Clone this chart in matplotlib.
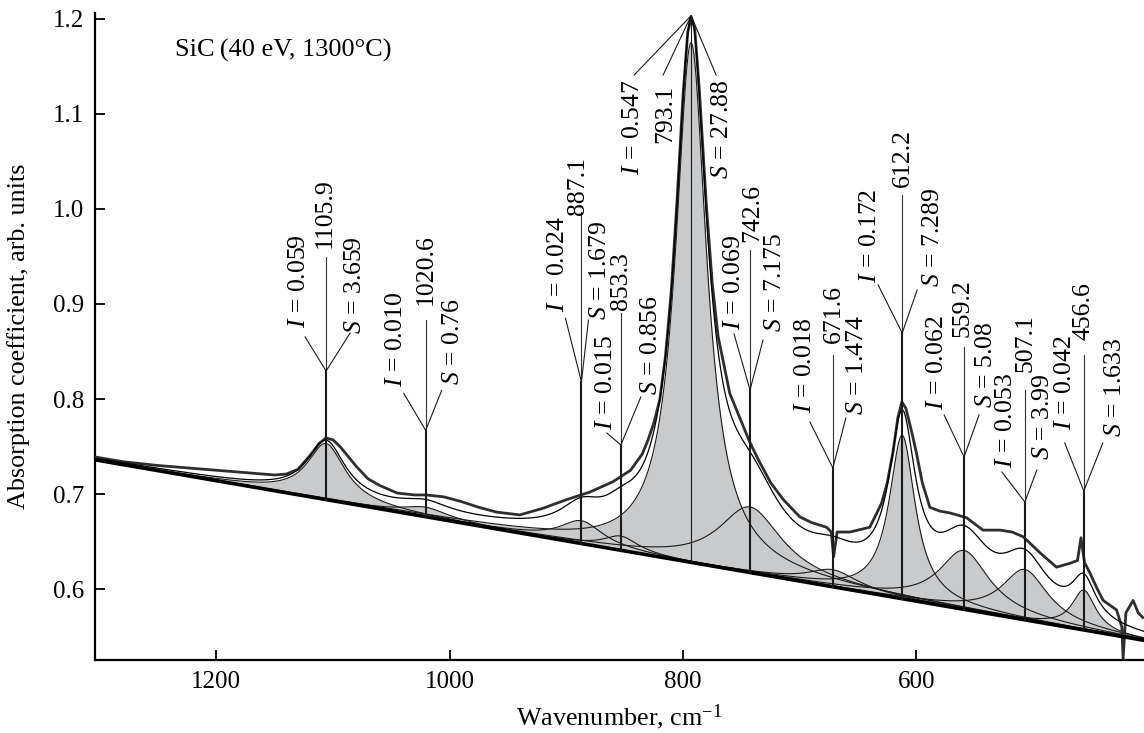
import numpy as np
import matplotlib
matplotlib.use("Agg")
import matplotlib.pyplot as plt

plt.rcParams['font.family'] = ['Liberation Serif', 'DejaVu Serif']
plt.rcParams['mathtext.fontset'] = 'custom'
plt.rcParams['mathtext.rm'] = 'Liberation Serif'
plt.rcParams['mathtext.it'] = 'Liberation Serif:italic'

# ---- data ----
peak_centers = [1105.9, 1020.6, 887.1, 853.3, 793.1, 742.6, 671.6, 612.2, 559.2, 507.1, 456.6]
peak_I = [0.059, 0.010, 0.024, 0.015, 0.547, 0.069, 0.018, 0.172, 0.062, 0.053, 0.042]
peak_S = [3.659, 0.76, 1.679, 0.856, 27.88, 7.175, 1.474, 7.289, 5.08, 3.99, 1.633]

baseline_x = [1304.0, 405.0]
baseline_y = [0.736, 0.546]

meas_x = [1304, 1280, 1250, 1200, 1170, 1150, 1140, 1130, 1120, 1112, 1106, 1100, 1094, 1088,
          1080, 1070, 1060, 1045, 1030, 1020, 1005, 990, 975, 960, 940, 920, 900, 880, 860,
          845, 835, 830, 825, 820, 815, 810, 805, 800, 796, 793, 790, 786, 780, 775, 770, 760,
          750, 742.6, 735, 725, 714, 700, 690, 677, 673, 671, 668, 657, 640, 630, 625, 620, 616,
          612.5, 609, 604, 600, 595, 588.5, 580, 571, 557, 543, 528.5, 518, 508.5, 494, 480,
          468.6, 462, 459, 456, 451.4, 445, 440, 428.5, 424, 422.9, 420.5, 414.3, 410, 406]
meas_y = [0.739, 0.734, 0.730, 0.725, 0.722, 0.720, 0.721, 0.726, 0.740, 0.753, 0.759, 0.757,
          0.750, 0.741, 0.729, 0.716, 0.709, 0.701, 0.699, 0.699, 0.697, 0.692, 0.686, 0.681,
          0.678, 0.685, 0.694, 0.702, 0.713, 0.725, 0.742, 0.757, 0.775, 0.799, 0.846, 0.915,
          1.012, 1.120, 1.186, 1.202, 1.190, 1.124, 1.003, 0.922, 0.866, 0.806, 0.776, 0.754,
          0.735, 0.712, 0.694, 0.676, 0.670, 0.665, 0.660, 0.634, 0.660, 0.660, 0.665, 0.690,
          0.712, 0.745, 0.780, 0.797, 0.790, 0.765, 0.743, 0.712, 0.686, 0.682, 0.680, 0.675,
          0.662, 0.662, 0.660, 0.655, 0.638, 0.623, 0.627, 0.630, 0.654, 0.628, 0.617, 0.600,
          0.588, 0.578, 0.560, 0.527, 0.575, 0.588, 0.575, 0.570]

# ---- annotation layout (stems, branches, label anchors) ----
ann_junction_y = [0.8295, 0.767, 0.818, 0.7516, 1.2035, 0.8095, 0.7274, 0.8695, 0.739, 0.6916, 0.7032]
ann_top = [(1105.9, 0.9495), (1020.6, 0.883), (887.1, 0.997), (853.3, 0.8905), (817.1, 1.141),
           (742.6, 0.9568), (671.6, 0.8463), (612.2, 1.0147), (559.2, 0.8547), (507.1, 0.8095),
           (456.6, 0.8463)]
ann_I_end = [(1123.9, 0.8653), (1039.4, 0.806), (900.8, 0.885), (865.3, 0.7642), (841.9, 1.141),
             (756.3, 0.8684), (691.3, 0.7758), (632.8, 0.92), (576.3, 0.7832), (526.8, 0.7232),
             (472.9, 0.7537)]
ann_S_end = [(1085.3, 0.8695), (1006.9, 0.809), (881.1, 0.883), (836.2, 0.8021), (771.7, 1.141),
             (731.5, 0.8621), (660.5, 0.78), (599.4, 0.9147), (546.4, 0.7832), (496.8, 0.7253),
             (440.3, 0.7537)]
lab_I = [(1129.5, 0.8747), (1046.3, 0.8126), (907.5, 0.8916), (866.0, 0.7674), (842.8, 1.1358),
         (756.5, 0.8726), (695.6, 0.7853), (640.0, 0.9221), (582.8, 0.7884), (523.0, 0.7274),
         (472.5, 0.7674)]
lab_C = [(1106.9, 0.9589), (1021.0, 0.8989), (890.2, 0.9937), (853.0, 0.8937), (815.4, 1.1305),
         (741.0, 0.9653), (670.5, 0.8589), (611.8, 1.0232), (560.2, 0.8653), (506.8, 0.8284),
         (457.2, 0.8621)]
lab_S = [(1081.5, 0.8684), (997.5, 0.8147), (871.5, 0.8832), (827.8, 0.8042), (766.5, 1.1358),
         (721.6, 0.8705), (651.0, 0.7832), (585.8, 0.9179), (540.8, 0.7905), (491.8, 0.7358),
         (429.5, 0.7600)]

fig = plt.figure(figsize=(11.44, 7.33), dpi=100)
ax = fig.add_axes([0.083, 0.0996, 0.917, 0.8827])

x = np.linspace(1304, 405, 3000)
base = np.interp(x, baseline_x[::-1], baseline_y[::-1])


def comp(c, I, S):
    fwhm = 2.0 * S / (np.pi * I)
    g = fwhm / 2.0
    return I / (1.0 + ((x - c) / g) ** 2)


comps = [comp(c, I, S) for c, I, S in zip(peak_centers, peak_I, peak_S)]
for cp in comps:
    ax.fill_between(x, base, base + cp, color='#c9cacc', lw=0, zorder=1)
for cp in comps:
    ax.plot(x, base + cp, color='#1a1a1a', lw=0.8, zorder=2)
fit = base + np.sum(comps, axis=0)

ax.plot(meas_x, meas_y, color='#2e2e2e', lw=2.0, zorder=3)
ax.plot(x, fit, color='black', lw=0.9, zorder=3)
ax.plot(baseline_x, baseline_y, color='black', lw=2.6, zorder=4)

fs = 18.5
for k, c in enumerate(peak_centers):
    b = np.interp(c, baseline_x[::-1], baseline_y[::-1])
    jy = ann_junction_y[k]
    tx, ty = ann_top[k]
    ix, iy = ann_I_end[k]
    sx, sy = ann_S_end[k]
    texts = [(lab_I[k], r"$I$ = " + f"{peak_I[k]:.3f}"),
             (lab_C[k], f"{c}"),
             (lab_S[k], r"$S$ = " + f"{peak_S[k]}")]
    if k == 4:
        ax.plot([c, c], [b, jy], color='#1a1a1a', lw=0.8, zorder=5)
        for ex, ey in [(ix, iy), (tx, ty), (sx, sy)]:
            ax.plot([c, ex], [jy, ey], color='#1a1a1a', lw=0.8, zorder=5)
        va = 'top'
    else:
        ax.plot([c, c], [b, jy], color='#1a1a1a', lw=1.5, zorder=5)
        ax.plot([c, tx], [jy, ty], color='#333333', lw=0.8, zorder=5)
        ax.plot([c, ix], [jy, iy], color='#1a1a1a', lw=0.8, zorder=5)
        ax.plot([c, sx], [jy, sy], color='#1a1a1a', lw=0.8, zorder=5)
        va = 'bottom'
    for (lx, ly), s in texts:
        ax.text(lx, ly, s, rotation=90, ha='center', va=va, fontsize=fs, zorder=6)

ax.text(1235, 1.167, "SiC\u2009(40 eV, 1300°C)", fontsize=19, ha='left', va='center')

ax.set_xlim(1304, 405)
ax.set_ylim(0.5253, 1.2063)
ax.set_xticks([1200, 1000, 800, 600])
ax.set_yticks([0.6, 0.7, 0.8, 0.9, 1.0, 1.1, 1.2])
ax.set_yticklabels(["0.6", "0.7", "0.8", "0.9", "1.0", "1.1", "1.2"])
ax.tick_params(direction='in', length=7, width=1.3, labelsize=18, pad=8)
for s in ['top', 'right']:
    ax.spines[s].set_visible(False)
for s in ['left', 'bottom']:
    ax.spines[s].set_linewidth(1.6)

ax.set_xlabel("Wavenumber, cm$^{\u2212 1}$", fontsize=18.8)
ax.set_ylabel("Absorption coefficient, arb. units", fontsize=18.8)
ax.xaxis.set_label_coords(0.5, -0.066)
ax.yaxis.set_label_coords(-0.062, 0.5)

fig.savefig("out.png", dpi=100)
